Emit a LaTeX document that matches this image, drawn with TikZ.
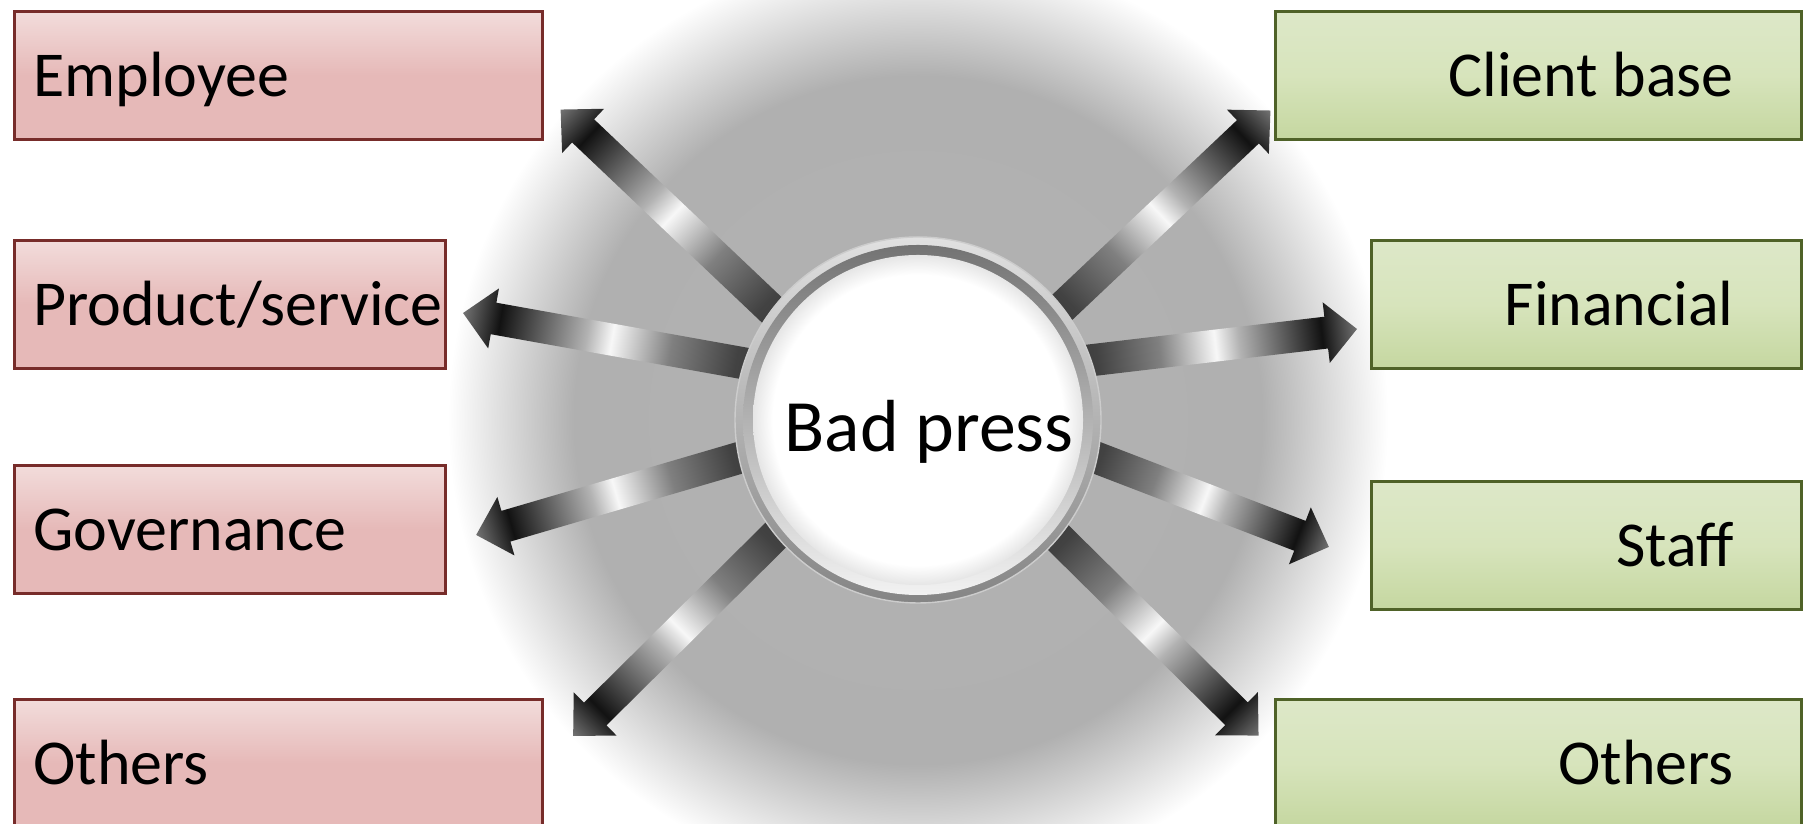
\documentclass[tikz,border=0pt]{standalone}
\usepackage{fontspec}
\setmainfont{Carlito}
\usetikzlibrary{calc,backgrounds}
\definecolor{pinktop}{RGB}{242,220,219}
\definecolor{pinkbot}{RGB}{230,185,184}
\definecolor{pinkline}{RGB}{119,44,42}
\definecolor{greentop}{RGB}{221,232,200}
\definecolor{greenmid}{RGB}{215,228,188}
\definecolor{greenbot}{RGB}{197,215,160}
\definecolor{greenline}{RGB}{79,98,40}
% shading along an arrow, from the hub (25bp) to the tip (75bp)
\pgfdeclarehorizontalshading{metal}{100bp}{color(0bp)=(black!78); color(25bp)=(black!78);
  color(31bp)=(black!74); color(41.5bp)=(black!50); color(51bp)=(black!3);
  color(55bp)=(black!30); color(63bp)=(black!66); color(69bp)=(black!93);
  color(75bp)=(black!55); color(100bp)=(black!55)}
% grey halo round the hub (path edge at 25bp)
\pgfdeclareradialshading{glow}{\pgfpoint{0bp}{0bp}}{color(0bp)=(black!30);
  color(18.3bp)=(black!31); color(25bp)=(white); color(50bp)=(white)}
\pgfdeclareradialshading{disc}{\pgfpoint{0bp}{0bp}}{color(0bp)=(white);
  color(22bp)=(white); color(25bp)=(black!10); color(50bp)=(black!10)}
\newcommand\shaftw{0.16cm}
\newcommand\headw{0.305cm}
\newcommand\headl{0.31cm}
\newcommand\shinyarrow[2]{%
  \path let \p1=($(#1)!-3mm!(#2)$), \p2=($(#2)-(\p1)$) in
    \pgfextra{%
      \pgfmathsetmacro\arrang{atan2(\y2,\x2)}%
      \pgfmathsetmacro\arrlen{veclen(\x2,\y2)}%
      \xdef\arrang{\arrang}\xdef\arrlen{\arrlen}%
      \xdef\arrx{\x1}\xdef\arry{\y1}};
  \begin{scope}[transform canvas={shift={(\arrx,\arry)}, rotate=\arrang}]
    \shade[shading=metal] (0,-\shaftw) -- (\arrlen pt-\headl,-\shaftw) -- (\arrlen pt-\headl,-\headw)
      -- (\arrlen pt,0) -- (\arrlen pt-\headl,\headw) -- (\arrlen pt-\headl,\shaftw) -- (0,\shaftw) -- cycle;
  \end{scope}}
\tikzset{
  box/.style={rectangle, line width=0.75pt, minimum height=1.28cm, inner ysep=0pt,
    text height=0.52cm, text depth=0.10cm, font=\fontsize{18.2}{22}\selectfont},
  redbox/.style={box, draw=pinkline, top color=pinktop, bottom color=pinkbot, middle color=pinkbot,
    inner xsep=0.19cm, text width=#1, align=flush left, anchor=north west},
  greenbox/.style={box, draw=greenline, top color=greentop, bottom color=greenbot, middle color=greenmid,
    inner xsep=0.68cm, text width=#1, align=flush right, anchor=north east},
  hub/.style={circle, minimum size=3.66cm, inner sep=0pt, draw=black!20, line width=0.4pt,
    top color=black!12, bottom color=black!48,
    path picture={
      \shade[top color=black!56, bottom color=black!4] (path picture bounding box.center) circle (1.75cm);
      \shade[shading=disc] (path picture bounding box.center) circle (1.65cm);}},
  hubtext/.style={anchor=base, font=\fontsize{21}{25}\selectfont}
}
\begin{document}
\begin{tikzpicture}
\useasboundingbox (0,0) rectangle (18.05,8.24);
\clip (0,0) rectangle (18.05,8.24);
% centre
\node[hub] (press) at (9.18,4.04) {};
\node[hubtext] (presslbl) at (9.29,3.72) {Bad press};
% left boxes
\node[redbox=4.90cm] (emp) at (0.13,8.14) {Employee};
\node[redbox=3.93cm] (prod) at (0.13,5.85) {Product/service};
\node[redbox=3.93cm] (gov) at (0.13,3.60) {Governance};
\node[redbox=4.90cm] (othl) at (0.13,1.26) {Others};
% right boxes
\node[greenbox=3.90cm] (client) at (18.03,8.14) {Client base};
\node[greenbox=2.94cm] (fin) at (18.03,5.85) {Financial};
\node[greenbox=2.94cm] (staff) at (18.03,3.44) {Staff};
\node[greenbox=3.90cm] (othr) at (18.03,1.26) {Others};
% arrow tips
\coordinate (emp-tip) at (5.60,7.15);
\coordinate (prod-tip) at (4.63,5.11);
\coordinate (gov-tip) at (4.76,2.89);
\coordinate (othl-tip) at (5.73,0.88);
\coordinate (client-tip) at (12.71,7.14);
\coordinate (fin-tip) at (13.57,4.95);
\coordinate (staff-tip) at (13.29,2.77);
\coordinate (othr-tip) at (12.59,0.88);
\begin{scope}[on background layer]
\shade[shading=glow] (press.center) circle (4.7cm);
\shinyarrow{press.143}{emp-tip}
\shinyarrow{press.162}{prod-tip}
\shinyarrow{press.192}{gov-tip}
\shinyarrow{press.219}{othl-tip}
\shinyarrow{press.38}{client-tip}
\shinyarrow{press.19}{fin-tip}
\shinyarrow{press.348}{staff-tip}
\shinyarrow{press.320}{othr-tip}
\end{scope}
\end{tikzpicture}
\end{document}
